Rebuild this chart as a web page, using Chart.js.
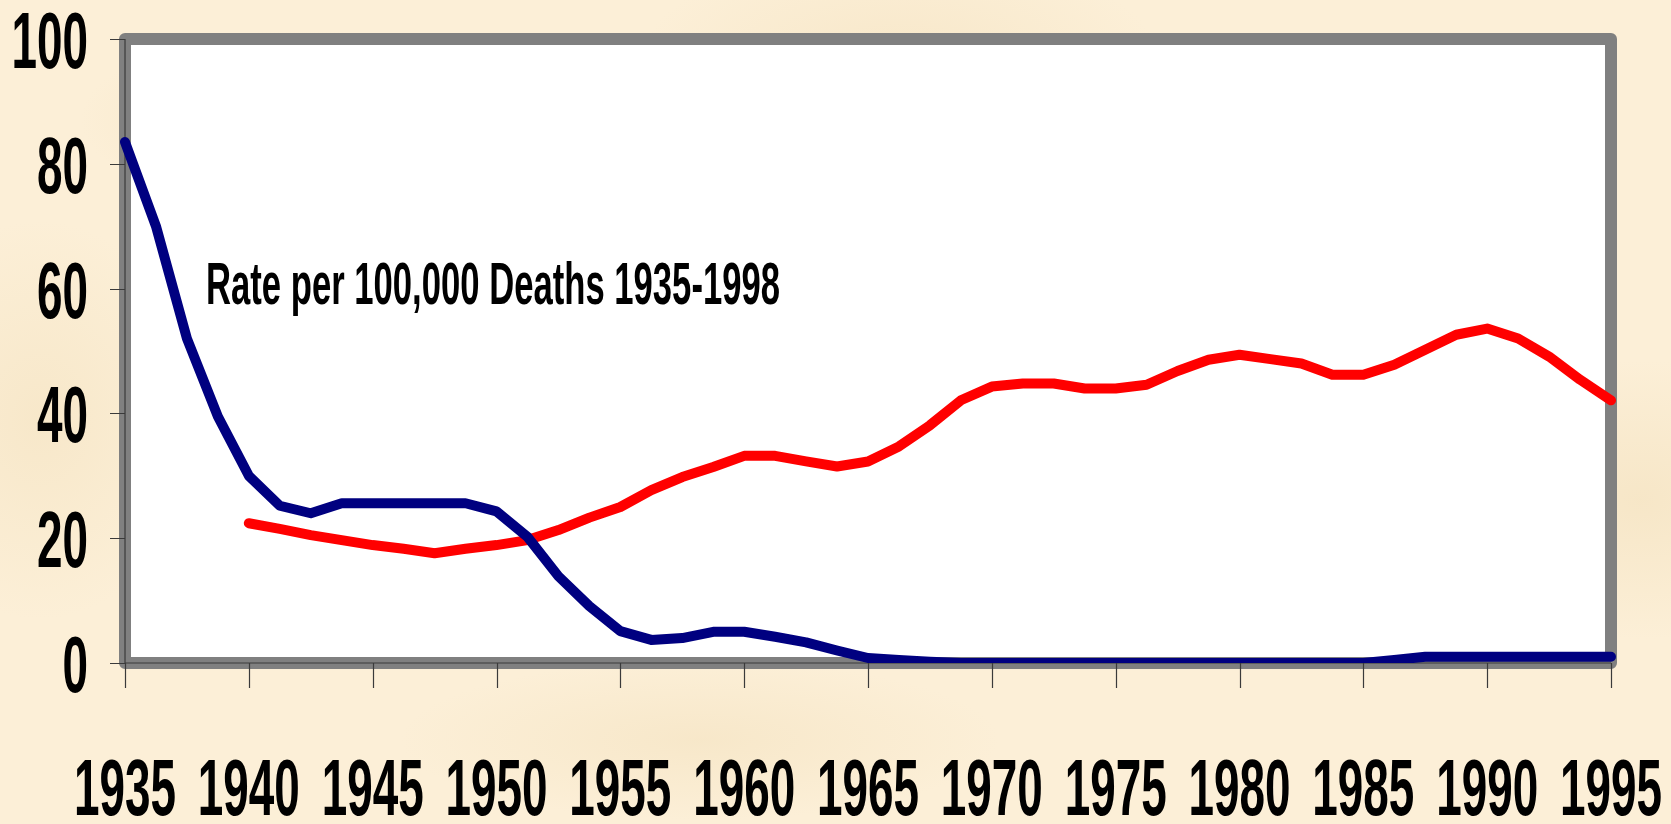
<!DOCTYPE html>
<html>
<head>
<meta charset="utf-8">
<title>Rate per 100,000 Deaths 1935-1998</title>
<script src="https://cdn.jsdelivr.net/npm/chart.js@4/dist/chart.umd.min.js"></script>
<style>
  html, body { margin: 0; padding: 0; }
  body {
    width: 1671px;
    height: 824px;
    overflow: hidden;
    background-color: #fcefd7;
    background-image:
      radial-gradient(ellipse 220px 90px at 300px 120px, rgba(236, 214, 170, 0.35), transparent),
      radial-gradient(ellipse 260px 110px at 900px 60px, rgba(236, 214, 170, 0.3), transparent),
      radial-gradient(ellipse 300px 80px at 700px 740px, rgba(236, 214, 170, 0.3), transparent),
      radial-gradient(ellipse 200px 140px at 1640px 500px, rgba(236, 214, 170, 0.35), transparent),
      radial-gradient(ellipse 160px 200px at 40px 420px, rgba(236, 214, 170, 0.3), transparent);
  }
  #chart { display: block; }
</style>
</head>
<body>
<canvas id="chart" width="1671" height="824"></canvas>
<script>
// tick labels on the axes
const xTickLabels = ['1935', '1940', '1945', '1950', '1955', '1960', '1965', '1970', '1975', '1980', '1985', '1990', '1995'];
const yTickValues = [0, 20, 40, 60, 80, 100];
const stepsPerTick = 4; // data points between two year labels

const noteText = 'Rate per 100,000 Deaths 1935-1998';

// navy series
const blueSeries = [
  83.5, 70, 52, 39.5, 30, 25.2, 24.0, 25.6, 25.6, 25.6,
  25.6, 25.6, 24.3, 20.2, 13.9, 9.1, 5.1, 3.7, 4.0, 5.0,
  5.0, 4.2, 3.3, 2.0, 0.8, 0.5, 0.2, 0, 0, 0,
  0, 0, 0, 0, 0, 0, 0, 0, 0, 0,
  0, 0.5, 1.0, 1.0, 1.0, 1.0, 1.0, 1.0, 1.0
];

// red series (starts in 1940)
const redSeries = [
  null, null, null, null, 22.4, 21.5, 20.5, 19.7, 18.9, 18.3,
  17.6, 18.3, 18.9, 19.7, 21.3, 23.3, 25.0, 27.7, 29.8, 31.4,
  33.2, 33.2, 32.3, 31.5, 32.3, 34.7, 38.1, 42.1, 44.3, 44.8,
  44.8, 44.0, 44.0, 44.6, 46.8, 48.6, 49.4, 48.7, 48.0, 46.2,
  46.2, 47.8, 50.2, 52.6, 53.6, 52.0, 49.1, 45.4, 42.1
];

// one category per data point, year label on every 4th one
const categories = [];
xTickLabels.forEach(function (label, i) {
  categories.push(label);
  if (i < xTickLabels.length - 1) {
    for (let k = 1; k < stepsPerTick; k++) categories.push('');
  }
});

const FONT_FAMILY = '"Liberation Sans Narrow", "Liberation Sans", Arial, sans-serif';

// draw text squeezed horizontally so the glyphs look like the tall narrow face of the original
function squeezedText(ctx, text, x, y, size, align, targetWidth) {
  ctx.font = 'bold ' + size + 'px ' + FONT_FAMILY;
  const w = ctx.measureText(text).width;
  const sx = targetWidth / w;
  ctx.save();
  ctx.translate(x, y);
  ctx.scale(sx, 1);
  ctx.textAlign = align;
  ctx.textBaseline = 'alphabetic';
  ctx.fillStyle = '#000';
  ctx.fillText(text, 0, 0);
  ctx.restore();
}

function digitWidthScale(ctx, size, digitW) {
  ctx.font = 'bold ' + size + 'px ' + FONT_FAMILY;
  return digitW / ctx.measureText('0').width;
}

const framePlugin = {
  id: 'frame',
  beforeDatasetsDraw(chart) {
    const ctx = chart.ctx;
    const a = chart.chartArea;
    const xs = chart.scales.x;
    const ys = chart.scales.y;
    ctx.save();

    ctx.fillStyle = '#ffffff';
    ctx.fillRect(a.left, a.top, a.right - a.left, a.bottom - a.top);

    ctx.lineWidth = 12;
    ctx.lineJoin = 'round';
    ctx.strokeStyle = '#808080';
    ctx.strokeRect(a.left, a.top, a.right - a.left, a.bottom - a.top);

    // axis lines and tick marks
    ctx.lineWidth = 1.2;
    ctx.strokeStyle = '#3a3a3a';
    ctx.beginPath();
    ctx.moveTo(a.left, a.top);
    ctx.lineTo(a.left, a.bottom);
    ctx.lineTo(a.right, a.bottom);
    yTickValues.forEach(function (v) {
      const y = Math.round(ys.getPixelForValue(v)) + 0.5;
      ctx.moveTo(a.left - 15, y);
      ctx.lineTo(a.left, y);
    });
    categories.forEach(function (label, i) {
      if (label === '') return;
      const x = Math.round(xs.getPixelForValue(i)) + 0.5;
      ctx.moveTo(x, a.bottom);
      ctx.lineTo(x, a.bottom + 25);
    });
    ctx.stroke();
    ctx.restore();
  },
  afterDatasetsDraw(chart) {
    const ctx = chart.ctx;
    const a = chart.chartArea;
    const xs = chart.scales.x;
    const ys = chart.scales.y;
    const size = 80;
    const sx = digitWidthScale(ctx, size, 25.5);

    ctx.save();
    yTickValues.forEach(function (v) {
      const text = String(v);
      ctx.font = 'bold ' + size + 'px ' + FONT_FAMILY;
      const w = ctx.measureText(text).width * sx;
      squeezedText(ctx, text, a.left - 37, ys.getPixelForValue(v) + 29, size, 'right', w);
    });
    categories.forEach(function (label, i) {
      if (label === '') return;
      ctx.font = 'bold ' + size + 'px ' + FONT_FAMILY;
      const w = ctx.measureText(label).width * sx;
      squeezedText(ctx, label, xs.getPixelForValue(i), 815, size, 'center', w);
    });

    // note inside the plot
    squeezedText(ctx, noteText, a.left + 81, a.top + 265, 59, 'left', 574);
    ctx.restore();
  }
};

const ctx = document.getElementById('chart').getContext('2d');
const chart = new Chart(ctx, {
  type: 'line',
  data: {
    labels: categories,
    datasets: [
      {
        data: blueSeries,
        borderColor: '#000080',
        borderWidth: 10,
        borderCapStyle: 'round',
        borderJoinStyle: 'round',
        pointRadius: 0,
        tension: 0,
        fill: false
      },
      {
        data: redSeries,
        borderColor: '#ff0000',
        borderWidth: 10,
        borderCapStyle: 'round',
        borderJoinStyle: 'round',
        pointRadius: 0,
        tension: 0,
        fill: false,
        spanGaps: false
      }
    ]
  },
  options: {
    responsive: false,
    animation: false,
    devicePixelRatio: 1,
    layout: { padding: { left: 125, top: 39, right: 60, bottom: 161 } },
    plugins: {
      legend: { display: false },
      tooltip: { enabled: false },
      title: { display: false }
    },
    scales: {
      x: { display: false, offset: false },
      y: { display: false, min: 0, max: 100 }
    }
  },
  plugins: [framePlugin]
});
</script>
</body>
</html>
